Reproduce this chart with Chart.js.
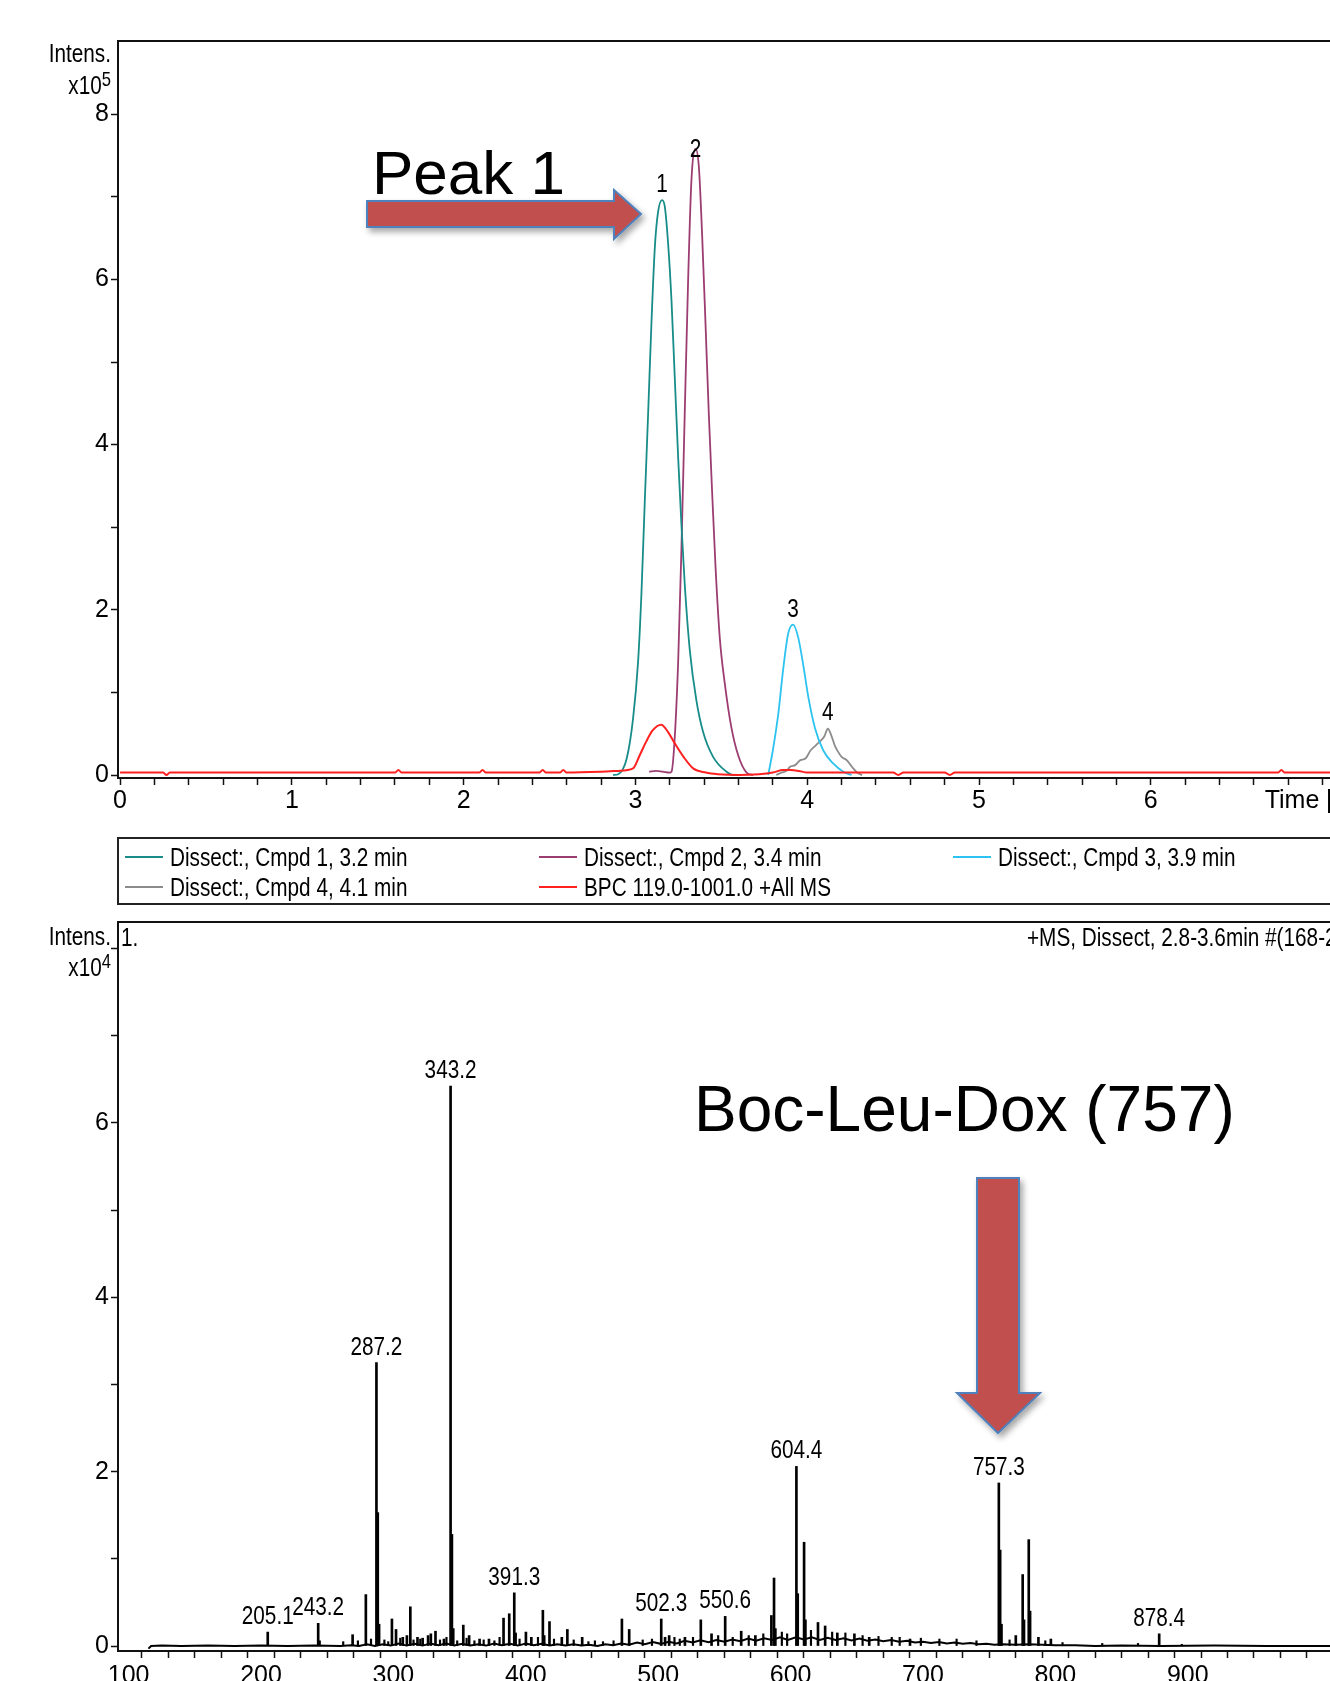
<!DOCTYPE html>
<html>
<head>
<meta charset="utf-8">
<title>LC-MS Peak 1 / Boc-Leu-Dox</title>
<script src="https://cdn.jsdelivr.net/npm/chart.js@4.4.1/dist/chart.umd.min.js"></script>
<style>
  html, body { margin: 0; padding: 0; background: #fff; }
  body { width: 1330px; height: 1681px; overflow: hidden; position: relative; }
  canvas { position: absolute; left: 0; }
  #lc { top: 0; }
  #ms { top: 905px; }
  #overlay { position: absolute; left: 0; top: 0; }
  #overlay text { font-family: 'Liberation Sans Narrow', 'Arial Narrow', 'Liberation Sans', sans-serif; fill: #000; }
  #overlay text.big { font-family: 'Liberation Sans', Arial, sans-serif; }
</style>
</head>
<body>
<canvas id="lc" width="1420" height="830"></canvas>
<canvas id="ms" width="1420" height="810"></canvas>
<svg id="overlay" width="1330" height="1681" xmlns="http://www.w3.org/2000/svg">
  <defs>
    <filter id="sh" x="-20%" y="-20%" width="140%" height="140%">
      <feDropShadow dx="3" dy="4" stdDeviation="3" flood-color="#000" flood-opacity="0.35"/>
    </filter>
  </defs>
  <text transform="translate(111,62) scale(0.83,1)" text-anchor="end" font-size="25">Intens.</text>
  <text transform="translate(111,94) scale(0.83,1)" text-anchor="end" font-size="25">x10<tspan font-size="20" dy="-8">5</tspan></text>
  <text transform="translate(111,945) scale(0.83,1)" text-anchor="end" font-size="25">Intens.</text>
  <text transform="translate(111,976) scale(0.83,1)" text-anchor="end" font-size="25">x10<tspan font-size="20" dy="-8">4</tspan></text>
  <text transform="translate(121,946) scale(0.83,1)" font-size="25">1.</text>
  <text transform="translate(1027,946) scale(0.83,1)" font-size="25">+MS, Dissect, 2.8-3.6min #(168-215)</text>

  <rect x="118" y="838" width="1300" height="66" fill="none" stroke="#222" stroke-width="2"/>
  <g id="legend"></g>

  <polygon points="367,201 614,201 614,190 641,214 614,239 614,227 367,227" fill="#c0504d" stroke="#4f81bd" stroke-width="2" filter="url(#sh)"/>
  <text class="big" x="372" y="194" font-size="62">Peak 1</text>
  <text class="big" x="694" y="1131" font-size="64">Boc-Leu-Dox (757)</text>
  <polygon points="977,1178 1019,1178 1019,1393 1040,1393 998,1433 957,1393 977,1393" fill="#c0504d" stroke="#4f81bd" stroke-width="2" filter="url(#sh)"/>
</svg>

<script>
// ---- chromatogram (time in min, intensity x10^5) ----
const cmpd1Time = [2.87, 2.90, 2.948, 2.986, 3.016, 3.035, 3.054, 3.074, 3.093, 3.113, 3.132, 3.155, 3.171, 3.19, 3.21, 3.229, 3.249, 3.268, 3.287, 3.317, 3.355, 3.394, 3.452, 3.53, 3.57, 3.62];
const cmpd1Int  = [0, 0.01, 0.19, 0.68, 1.39, 2.2, 3.29, 4.38, 5.46, 6.39, 6.82, 6.96, 6.88, 6.44, 5.74, 4.81, 3.83, 3.02, 2.31, 1.50, 0.90, 0.52, 0.22, 0.04, 0, 0];

const cmpd2Time = [3.08, 3.12, 3.16, 3.20, 3.21, 3.229, 3.249, 3.268, 3.287, 3.307, 3.326, 3.35, 3.369, 3.388, 3.408, 3.427, 3.447, 3.466, 3.491, 3.52, 3.559, 3.598, 3.647, 3.685];
const cmpd2Int  = [0.04, 0.05, 0.04, 0.03, 0.04, 0.46, 1.39, 2.75, 4.38, 6.01, 7.2, 7.58, 7.37, 6.55, 5.46, 4.38, 3.40, 2.53, 1.66, 1.11, 0.57, 0.24, 0.03, 0];

const cmpd3Time = [3.773, 3.80, 3.831, 3.86, 3.889, 3.918, 3.948, 3.977, 4.006, 4.045, 4.093, 4.151, 4.21, 4.258];
const cmpd3Int  = [0, 0.30, 0.73, 1.28, 1.71, 1.82, 1.66, 1.33, 0.95, 0.57, 0.30, 0.14, 0.04, 0];

const cmpd4Time = [3.82, 3.85, 3.88, 3.90, 3.93, 3.96, 3.99, 4.02, 4.05, 4.08, 4.10, 4.12, 4.14, 4.16, 4.18, 4.20, 4.23, 4.26, 4.29, 4.32];
const cmpd4Int  = [0, 0.03, 0.05, 0.10, 0.12, 0.18, 0.20, 0.30, 0.36, 0.42, 0.47, 0.56, 0.48, 0.36, 0.28, 0.22, 0.18, 0.10, 0.03, 0];

const bpcTime = [0, 0.25, 0.27, 0.29, 0.6, 1.0, 1.6, 1.62, 1.64, 2.0, 2.09, 2.11, 2.13, 2.44, 2.46, 2.48, 2.56, 2.58, 2.6, 2.8, 2.9, 2.986, 3.025, 3.064, 3.10, 3.15, 3.19, 3.23, 3.28, 3.336, 3.41, 3.48, 3.6, 3.72, 3.8, 3.86, 3.9, 3.95, 4.0, 4.1, 4.3, 4.5, 4.53, 4.56, 4.8, 4.83, 4.86, 5.2, 6.0, 6.74, 6.76, 6.78, 7.0, 7.6];
const bpcInt  = [0.03, 0.03, 0.0, 0.03, 0.03, 0.03, 0.03, 0.06, 0.03, 0.03, 0.03, 0.06, 0.03, 0.03, 0.06, 0.03, 0.03, 0.06, 0.03, 0.04, 0.05, 0.08, 0.24, 0.41, 0.54, 0.61, 0.52, 0.38, 0.22, 0.08, 0.03, 0.01, 0.0, 0.01, 0.03, 0.06, 0.06, 0.05, 0.03, 0.03, 0.03, 0.03, 0.0, 0.03, 0.03, 0.0, 0.03, 0.03, 0.03, 0.03, 0.06, 0.03, 0.03, 0.03];

const seriesNames  = ['Dissect:, Cmpd 1, 3.2 min', 'Dissect:, Cmpd 2, 3.4 min', 'Dissect:, Cmpd 3, 3.9 min', 'Dissect:, Cmpd 4, 4.1 min', 'BPC 119.0-1001.0 +All MS'];
const seriesColors = ['#178c89', '#9c3d72', '#2cc3f0', '#8c8c8c', '#ff2020'];
const peakNumbers  = ['1', '2', '3', '4'];

// ---- mass spectrum (m/z, intensity x10^4) ----
const baseMz = [115, 117, 125, 140, 160, 180, 200, 220, 240, 260,
  268, 274, 280, 286, 292, 298, 304, 310, 316, 322,
  328, 334, 340, 346, 352, 358, 364, 370, 376, 382,
  388, 394, 400, 406, 412, 418, 424, 430, 436, 442,
  448, 454, 460, 466, 472, 478, 484, 490, 496, 502,
  508, 514, 520, 526, 532, 538, 544, 550, 556, 562,
  568, 574, 580, 586, 592, 598, 604, 610, 616, 622,
  628, 634, 640, 646, 652, 658, 664, 670, 676, 682,
  688, 694, 700, 706, 712, 718, 724, 730, 736, 742,
  748, 754, 760, 770, 780, 790, 800, 815, 830, 850,
  880, 920, 960, 1000, 1040, 1075];
const baseInt = [-0.03, 0.0, 0.005, 0.0, 0.005, 0.0, 0.005, 0.0, 0.005, 0.0,
  0.01, 0.0, 0.02, 0.0, 0.02, 0.005, 0.03, 0.005, 0.025, 0.005,
  0.03, 0.01, 0.03, 0.005, 0.025, 0.005, 0.02, 0.005, 0.03, 0.01,
  0.025, 0.005, 0.03, 0.01, 0.025, 0.005, 0.02, 0.005, 0.02, 0.005,
  0.015, 0.0, 0.02, 0.01, 0.03, 0.015, 0.04, 0.02, 0.045, 0.025,
  0.05, 0.03, 0.06, 0.04, 0.065, 0.045, 0.07, 0.05, 0.075, 0.055,
  0.085, 0.06, 0.09, 0.07, 0.1, 0.07, 0.1, 0.075, 0.1, 0.07,
  0.095, 0.07, 0.09, 0.065, 0.085, 0.06, 0.075, 0.055, 0.07, 0.05,
  0.06, 0.04, 0.05, 0.035, 0.045, 0.03, 0.04, 0.025, 0.035, 0.02,
  0.025, 0.015, 0.02, 0.015, 0.02, 0.015, 0.01, 0.01, 0.0, 0.005,
  0.0, 0.005, 0.0, 0.0, 0.0, 0.0];

const peakMz = [205.1, 243.2, 244.2, 269.2, 279.2, 287.2, 288.2, 289.2, 298.9, 302.0,
  307.1, 310.2, 312.8, 318.2, 322.1, 326.2, 328.3, 331.8, 338.2, 343.2,
  344.2, 345.2, 352.8, 357.2, 365.1, 372.2, 383.2, 387.5, 391.3, 392.3,
  400.1, 404.2, 412.9, 413.9, 417.9, 427.2, 431.4, 442.6, 472.6, 478.1,
  502.3, 505.2, 508.3, 520.2, 532.2, 540.3, 550.6, 562.7, 573.4, 585.5,
  587.5, 588.5, 604.4, 605.4, 610.2, 611.2, 620.7, 626.1, 635.3, 648.2,
  659.4, 690.2, 757.3, 758.3, 759.3, 770.1, 775.3, 776.3, 779.9, 780.9,
  787.2, 796.6, 878.4];
const peakInt = [0.16, 0.26, 0.06, 0.13, 0.59, 3.25, 1.53, 0.25, 0.31, 0.19,
  0.10, 0.12, 0.45, 0.10, 0.09, 0.12, 0.14, 0.17, 0.08, 6.42,
  1.28, 0.20, 0.24, 0.12, 0.08, 0.08, 0.32, 0.37, 0.61, 0.15,
  0.16, 0.10, 0.41, 0.12, 0.28, 0.10, 0.19, 0.10, 0.31, 0.19,
  0.31, 0.10, 0.12, 0.10, 0.30, 0.14, 0.34, 0.17, 0.12, 0.35,
  0.78, 0.20, 2.06, 0.60, 1.19, 0.30, 0.27, 0.23, 0.15, 0.14,
  0.10, 0.08, 1.87, 1.10, 0.25, 0.12, 0.82, 0.30, 1.22, 0.40,
  0.10, 0.08, 0.14];
const labelledMz = [205.1, 243.2, 287.2, 343.2, 391.3, 502.3, 550.6, 604.4, 757.3, 878.4];

// small noise sticks riding on the baseline
const noiseMz  = [262.1, 273.2, 283.1, 293.2, 296.1, 305.2, 315.2, 320.3, 335.2, 340.1,
  348.2, 355.3, 361.2, 368.2, 376.3, 380.2, 395.3, 409.2, 421.3, 436.2,
  447.3, 452.2, 458.3, 466.3, 488.3, 495.3, 512.3, 516.3, 526.3, 545.3,
  556.3, 568.4, 579.4, 593.4, 597.4, 615.4, 631.4, 641.4, 654.4, 666.4,
  676.4, 682.4, 698.4, 712.4, 725.4, 740.4, 765.4, 792.4, 805.4, 835.4,
  862.4, 895.5];
const noiseInt = [0.05, 0.06, 0.08, 0.07, 0.05, 0.09, 0.07, 0.08, 0.07, 0.10,
  0.06, 0.09, 0.06, 0.07, 0.06, 0.10, 0.08, 0.10, 0.08, 0.07,
  0.05, 0.06, 0.05, 0.06, 0.07, 0.08, 0.10, 0.08, 0.10, 0.12,
  0.10, 0.12, 0.14, 0.16, 0.14, 0.18, 0.16, 0.15, 0.12, 0.11,
  0.10, 0.10, 0.09, 0.08, 0.08, 0.06, 0.07, 0.06, 0.04, 0.03,
  0.03, 0.02];

// ---- helpers ----
const narrow = "'Liberation Sans Narrow', 'Arial Narrow', 'Liberation Sans', sans-serif";
const squeeze = 0.83;
Chart.defaults.font.family = narrow;
Chart.defaults.font.size = 25;
Chart.defaults.color = '#000';

function pts(xs, ys) {
  return xs.map((x, i) => ({x: x, y: ys[i]}));
}
function isWhole(v, step) {
  const r = v / step;
  return Math.abs(r - Math.round(r)) < 1e-6;
}
function narrowText(ctx, txt, x, y) {
  ctx.save();
  ctx.translate(x, y);
  ctx.scale(squeeze, 1);
  ctx.fillText(txt, 0, 0);
  ctx.restore();
}

// top edge of the plot frame
const frame = {
  id: 'frame',
  afterDraw(chart) {
    const a = chart.chartArea, ctx = chart.ctx;
    ctx.save();
    ctx.strokeStyle = '#111';
    ctx.lineWidth = 2;
    ctx.beginPath();
    ctx.moveTo(a.left - 1, a.top);
    ctx.lineTo(a.right, a.top);
    ctx.stroke();
    ctx.restore();
  }
};

// numbers above the chromatogram peaks
const peakTags = {
  id: 'peakTags',
  afterDatasetsDraw(chart, args, opts) {
    if (!opts.gaps) return;
    const ctx = chart.ctx, x = chart.scales.x, y = chart.scales.y;
    ctx.save();
    ctx.font = '25px ' + narrow;
    ctx.fillStyle = '#000';
    ctx.textAlign = 'center';
    peakNumbers.forEach((txt, i) => {
      const d = chart.data.datasets[i].data;
      let top = d[0];
      d.forEach(p => { if (p.y > top.y) top = p; });
      narrowText(ctx, txt, x.getPixelForValue(top.x), y.getPixelForValue(top.y) - opts.gaps[i]);
    });
    ctx.restore();
  }
};

// m/z labels above the spectrum sticks
const mzTags = {
  id: 'mzTags',
  afterDatasetsDraw(chart, args, opts) {
    if (!opts.show) return;
    const ctx = chart.ctx, x = chart.scales.x, y = chart.scales.y;
    ctx.save();
    ctx.font = '25px ' + narrow;
    ctx.fillStyle = '#000';
    ctx.textAlign = 'center';
    labelledMz.forEach(mz => {
      const i = peakMz.indexOf(mz);
      narrowText(ctx, mz.toFixed(1), x.getPixelForValue(mz), y.getPixelForValue(peakInt[i]) - 8);
    });
    ctx.restore();
  }
};

function axisStyle() {
  return {
    border: {display: true, color: '#111', width: 2},
    grid: {display: true, drawOnChartArea: false, drawTicks: true, tickLength: 7, tickColor: '#111', tickWidth: 1.5}
  };
}

// ---- chromatogram chart ----
const lcSets = [
  [cmpd1Time, cmpd1Int], [cmpd2Time, cmpd2Int], [cmpd3Time, cmpd3Int], [cmpd4Time, cmpd4Int], [bpcTime, bpcInt]
].map((s, i) => ({
  label: seriesNames[i],
  data: pts(s[0], s[1]),
  borderColor: seriesColors[i],
  borderWidth: i === 4 ? 2 : 1.8,
  order: i === 4 ? 0 : 1
}));

new Chart(document.getElementById('lc'), {
  type: 'line',
  data: {datasets: lcSets},
  options: {
    responsive: false,
    animation: false,
    devicePixelRatio: 1,
    layout: {padding: {top: 41, left: 0, right: 0, bottom: 0}},
    elements: {
      point: {radius: 0},
      line: {cubicInterpolationMode: 'monotone'}
    },
    plugins: {
      legend: {display: false},
      tooltip: {enabled: false},
      peakTags: {gaps: [8, -8, 8, 9]}
    },
    scales: {
      x: Object.assign(axisStyle(), {
        type: 'linear', min: -0.012, max: 7.567,
        ticks: {
          stepSize: 0.2, autoSkip: false, maxRotation: 0, padding: 1, includeBounds: false,
          callback: v => isWhole(v, 1) ? (Math.round(v) === 7 ? 'Time [min]' : String(Math.round(v))) : ''
        },
        afterFit: s => { s.height = 52; }
      }),
      y: Object.assign(axisStyle(), {
        type: 'linear', min: -0.036, max: 8.886,
        ticks: {
          stepSize: 1, autoSkip: false, padding: 2, includeBounds: false,
          callback: v => isWhole(v, 2) ? String(Math.round(v)) : ''
        },
        afterFit: s => { s.width = 118; }
      })
    }
  },
  plugins: [frame, peakTags]
});

// ---- mass spectrum chart ----
new Chart(document.getElementById('ms'), {
  type: 'bar',
  data: {
    datasets: [
      {type: 'bar', label: 'peaks', data: pts(peakMz, peakInt), backgroundColor: '#000', barThickness: 2, order: 0},
      {type: 'bar', label: 'noise', data: pts(noiseMz, noiseInt), backgroundColor: '#000', barThickness: 1.5, order: 0},
      {type: 'line', label: 'profile', data: pts(baseMz, baseInt), borderColor: '#000', borderWidth: 2, pointRadius: 0, tension: 0, order: 1}
    ]
  },
  options: {
    responsive: false,
    animation: false,
    devicePixelRatio: 1,
    layout: {padding: {top: 17, left: 0, right: 0, bottom: 0}},
    datasets: {bar: {grouped: false}},
    plugins: {
      legend: {display: false},
      tooltip: {enabled: false},
      mzTags: {show: true}
    },
    scales: {
      x: Object.assign(axisStyle(), {
        type: 'linear', min: 92, max: 1075.4, offset: false,
        ticks: {
          stepSize: 20, autoSkip: false, maxRotation: 0, padding: 3, includeBounds: false,
          callback: v => (isWhole(v, 100) && v < 950) ? String(Math.round(v)) : ''
        },
        afterFit: s => { s.height = 64; }
      }),
      y: Object.assign(axisStyle(), {
        type: 'linear', min: -0.057, max: 8.303,
        ticks: {
          stepSize: 1, autoSkip: false, padding: 2, includeBounds: false,
          callback: v => (isWhole(v, 2) && v < 7.5) ? String(Math.round(v)) : ''
        },
        afterFit: s => { s.width = 118; }
      })
    }
  },
  plugins: [frame, mzTags]
});

// ---- legend of the chromatogram ----
const slots = [[125, 857], [539, 857], [953, 857], [125, 887], [539, 887]];
const ns = 'http://www.w3.org/2000/svg';
const lg = document.getElementById('legend');
seriesNames.forEach((name, i) => {
  const [lx, ly] = slots[i];
  const ln = document.createElementNS(ns, 'line');
  ln.setAttribute('x1', lx); ln.setAttribute('x2', lx + 38);
  ln.setAttribute('y1', ly); ln.setAttribute('y2', ly);
  ln.setAttribute('stroke', seriesColors[i]); ln.setAttribute('stroke-width', 2);
  lg.appendChild(ln);
  const tx = document.createElementNS(ns, 'text');
  tx.setAttribute('transform', 'translate(' + (lx + 45) + ',' + (ly + 9) + ') scale(' + squeeze + ',1)');
  tx.setAttribute('font-size', 25);
  tx.textContent = name;
  lg.appendChild(tx);
});
</script>
</body>
</html>
